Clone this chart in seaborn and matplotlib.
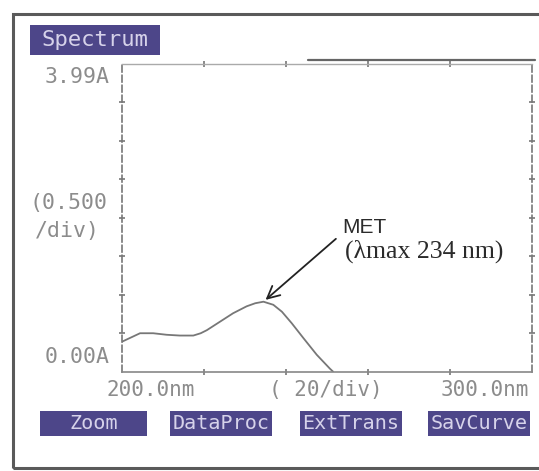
import numpy as np
import pandas as pd
import matplotlib
matplotlib.use("Agg")
import matplotlib.pyplot as plt
import seaborn as sns
from matplotlib.patches import Rectangle
from matplotlib.lines import Line2D

# Espectro UV do MET (nm, absorbancia)
comprimento_onda = [200.0, 202.0, 204.4, 207.6, 210.9, 214.1, 217.4, 219.2, 220.7, 223.9,
                    227.1, 230.4, 232.5, 234.5, 236.9, 239.0, 241.4, 244.2, 247.5, 250.7, 251.5]
absorbancia = [0.39, 0.44, 0.50, 0.50, 0.48, 0.47, 0.47, 0.50, 0.54, 0.65,
               0.76, 0.85, 0.89, 0.91, 0.87, 0.78, 0.63, 0.44, 0.22, 0.04, 0.00]

x_min, x_max = 200.0, 300.0
y_min, y_max = 0.0, 4.0
x_passo = 20
y_passo = 0.5

botoes = ["Zoom", "DataProc", "ExtTrans", "SavCurve"]
pico_nm = 234.5
pico_abs = 0.91

W, H = 539, 471
cinza = "#8c8c8c"
roxo = "#4d4689"
texto_botao = "#d6d2ea"

sns.set_theme(style="white")
plt.rcParams["font.family"] = ["DejaVu Sans"]

fig = plt.figure(figsize=(W / 100, H / 100), dpi=100)
fig.patch.set_facecolor("white")


def fx(px):
    return px / W


def fy(py):
    return 1 - py / H


# moldura externa
fig.add_artist(Rectangle((fx(13), fy(468)), fx(560) - fx(13), fy(14) - fy(468),
                         transform=fig.transFigure, fill=False, edgecolor="#5a5a5a",
                         linewidth=2.2, clip_on=False))

ax = fig.add_axes([fx(122), fy(371.7), fx(532) - fx(122), fy(64) - fy(371.7)])

df = pd.DataFrame({"nm": comprimento_onda, "A": absorbancia})
sns.lineplot(data=df, x="nm", y="A", ax=ax, color="#777777", linewidth=1.3)

ax.set_xlim(x_min, x_max)
ax.set_ylim(y_min, y_max)
ax.set_xticks(np.arange(x_min + x_passo, x_max, x_passo))
ax.set_yticks(np.arange(y_min + y_passo, y_max, y_passo))
ax.tick_params(axis="both", direction="inout", length=5, width=1.2, color="#777777",
               labelbottom=False, labelleft=False, top=True, right=True, bottom=True, left=True)
ax.set_xlabel("")
ax.set_ylabel("")
ax.grid(False)

for lado in ["left", "right"]:
    ax.spines[lado].set_linestyle((0, (4, 2)))
    ax.spines[lado].set_color("#777777")
    ax.spines[lado].set_linewidth(1.2)
ax.spines["bottom"].set_color("#888888")
ax.spines["bottom"].set_linewidth(1.2)
ax.spines["top"].set_color("#aaaaaa")
ax.spines["top"].set_linewidth(1.0)

# trecho escuro do topo (artefato da tela)
fig.add_artist(Line2D([fx(308), fx(535)], [fy(60), fy(60)], transform=fig.transFigure,
                      color="#666666", linewidth=1.6))

mono = "DejaVu Sans Mono"
# rotulos do eixo y
fig.text(fx(110), fy(77), "3.99A", ha="right", va="center", family=mono, fontsize=15.5, color=cinza)
fig.text(fx(108), fy(203), "(0.500", ha="right", va="center", family=mono, fontsize=15.5, color=cinza)
fig.text(fx(100), fy(231), "/div)", ha="right", va="center", family=mono, fontsize=15.5, color=cinza)
fig.text(fx(110), fy(357), "0.00A", ha="right", va="center", family=mono, fontsize=15.5, color=cinza)

# rotulos do eixo x
fig.text(fx(151), fy(390), f"{x_min:.1f}nm", ha="center", va="center", family=mono, fontsize=15, color=cinza)
fig.text(fx(326), fy(390), f"( {x_passo}/div)", ha="center", va="center", family=mono, fontsize=15, color=cinza)
fig.text(fx(485), fy(390), f"{x_max:.1f}nm", ha="center", va="center", family=mono, fontsize=15, color=cinza)

# caixa "Spectrum"
fig.add_artist(Rectangle((fx(30), fy(55)), fx(160) - fx(30), fy(25) - fy(55),
                         transform=fig.transFigure, facecolor=roxo, edgecolor="none"))
fig.text(fx(95), fy(40), "Spectrum", ha="center", va="center", family=mono, fontsize=16,
         color=texto_botao)

# botoes de baixo
posicoes = [(40, 147), (170, 272), (300, 402), (428, 530)]
for nome, (x0, x1) in zip(botoes, posicoes):
    fig.add_artist(Rectangle((fx(x0), fy(436)), fx(x1) - fx(x0), fy(411) - fy(436),
                             transform=fig.transFigure, facecolor=roxo, edgecolor="none"))
    fig.text(fx((x0 + x1) / 2), fy(423.5), nome, ha="center", va="center", family=mono,
             fontsize=14.5, color=texto_botao)

# anotacao do pico
ax.annotate("", xy=(pico_nm, pico_abs), xycoords="data",
            xytext=(fx(338), fy(237)), textcoords="figure fraction",
            arrowprops=dict(arrowstyle="->", color="#222222", lw=1.3, mutation_scale=22))
fig.text(fx(342), fy(233), "MET", ha="left", va="baseline", family="Liberation Sans",
         fontsize=15, color="#2b2b2b")
fig.text(fx(345), fy(251), "(λmax 234 nm)", ha="left", va="center", family="Liberation Serif",
         fontsize=18.5, color="#2b2b2b")

fig.savefig("out.png", dpi=100)
